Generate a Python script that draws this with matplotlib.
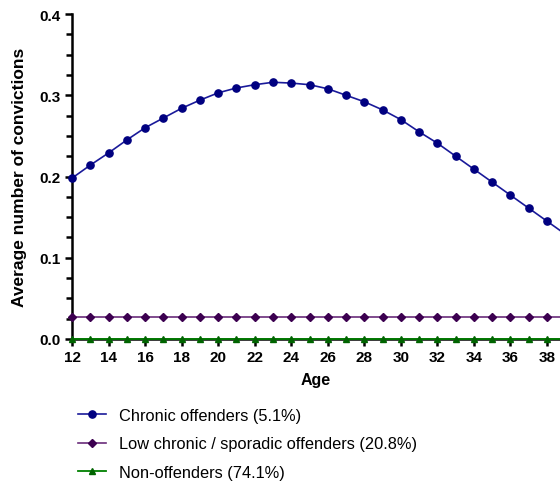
import matplotlib
matplotlib.use("Agg")
import matplotlib.pyplot as plt
from matplotlib.ticker import MultipleLocator

plt.rcParams['font.family'] = ['Liberation Sans', 'DejaVu Sans']

ages = list(range(12, 40))
chronic = [0.198, 0.214, 0.229, 0.245, 0.260, 0.272, 0.284, 0.294, 0.303, 0.309,
           0.313, 0.316, 0.315, 0.313, 0.308, 0.300, 0.292, 0.282, 0.270, 0.255,
           0.241, 0.225, 0.209, 0.193, 0.177, 0.161, 0.145, 0.129]
low_chronic = [0.027] * len(ages)
non_offenders = [0.0] * len(ages)
labels = ["Chronic offenders (5.1%)",
          "Low chronic / sporadic offenders (20.8%)",
          "Non-offenders (74.1%)"]

fig = plt.figure(figsize=(5.6, 4.85), dpi=100)
ax = fig.add_axes([0.1286, 0.299, 1 - 0.1286, 0.67])

ax.plot(ages, non_offenders, color='#008000', lw=1.3, marker='^', ms=5,
        mfc='#006400', mec='#006400', clip_on=False, zorder=4, label=labels[2])
ax.plot(ages, low_chronic, color='#6a2c7a', lw=1.2, marker='D', ms=4.3,
        mfc='#3c0050', mec='#3c0050', clip_on=False, zorder=3, label=labels[1])
ax.plot(ages, chronic, color='#1a1a9a', lw=1.2, marker='o', ms=5.2,
        mfc='#000080', mec='#000080', clip_on=False, zorder=3, label=labels[0])

ax.set_xlim(12, 38.71)
ax.set_ylim(0, 0.4)
ax.xaxis.set_major_locator(MultipleLocator(2))
ax.yaxis.set_major_locator(MultipleLocator(0.1))
ax.yaxis.set_minor_locator(MultipleLocator(0.025))
ax.yaxis.set_major_formatter(plt.FuncFormatter(lambda v, p: f"{v:.1f}"))

for s in ['top', 'right']:
    ax.spines[s].set_visible(False)
for s in ['left', 'bottom']:
    ax.spines[s].set_linewidth(1.8)
    ax.spines[s].set_color('black')
ax.tick_params(axis='both', which='major', length=5, width=1.8, labelsize=11, pad=3)
ax.tick_params(axis='y', which='minor', length=4, width=1.8)
for t in ax.get_xticklabels() + ax.get_yticklabels():
    t.set_fontweight('bold')

ax.set_xlabel("Age", fontsize=11.5, fontweight='bold', labelpad=6)
ax.set_ylabel("Average number of convictions", fontsize=12.5, fontweight='bold', labelpad=9)

h, l = ax.get_legend_handles_labels()
order = [2, 1, 0]
fig.legend([h[i] for i in order], [l[i] for i in order], loc='upper left',
           bbox_to_anchor=(78 / 560, 1 - 409 / 485), frameon=False,
           fontsize=11.8, handlelength=1.7, handletextpad=0.8, borderpad=0,
           borderaxespad=0, labelspacing=0.82)

fig.savefig("out.png", dpi=100)
